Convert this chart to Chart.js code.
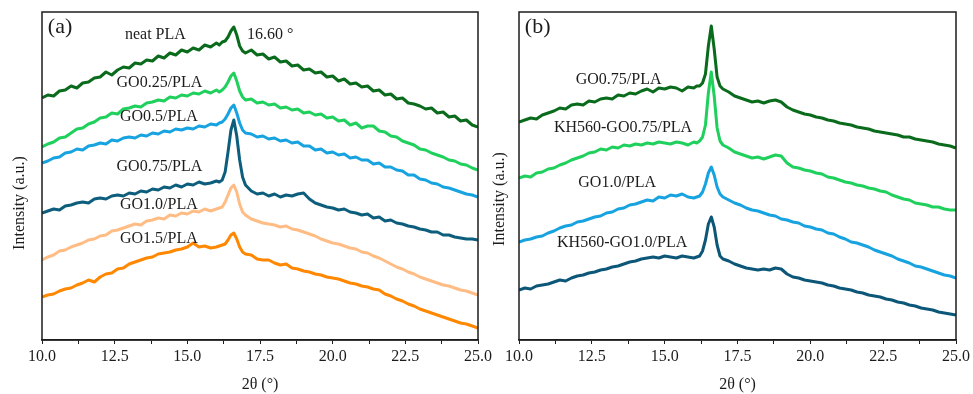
<!DOCTYPE html>
<html>
<head>
<meta charset="utf-8">
<script src="https://cdn.jsdelivr.net/npm/chart.js@4.4.1/dist/chart.umd.min.js"></script>
<style>
  html, body { margin: 0; padding: 0; background: #fff; }
  #wrap { position: relative; width: 973px; height: 394px; overflow: hidden; }
  #chartA { position: absolute; left: 0; top: 0; }
  #chartB { position: absolute; left: 490px; top: 0; }
</style>
</head>
<body>
<div id="wrap">
  <canvas id="chartA" width="500" height="394"></canvas>
  <canvas id="chartB" width="483" height="394"></canvas>
</div>
<script>
// 2θ positions (degrees), shared by every pattern
const theta = [10.0,10.2,10.4,10.6,10.8,11.0,11.2,11.4,11.6,11.8,12.0,12.2,12.4,12.6,12.8,13.0,13.2,13.4,13.6,13.8,
  14.0,14.2,14.4,14.6,14.8,15.0,15.2,15.4,15.6,15.8,16.0,16.1,16.2,16.3,16.4,16.5,16.6,16.7,16.8,16.9,17.0,
  17.2,17.4,17.6,17.8,18.0,18.2,18.4,18.6,18.8,19.0,19.2,19.4,19.6,19.8,20.0,20.2,20.4,20.6,20.8,
  21.0,21.2,21.4,21.6,21.8,22.0,22.2,22.4,22.6,22.8,23.0,23.2,23.4,23.6,23.8,24.0,24.2,24.4,24.6,24.8,25.0];

const majorTicks = [10.0, 12.5, 15.0, 17.5, 20.0, 22.5, 25.0];

// panel (a): intensity (a.u., curves stacked with offsets)
const neatPLA = [242,245,244,249,250,254,252,257,258,262, 263,268,265,270,273,272,277,276,280,279,
  284,282,287,285,290,288,292,290,295,293, 297,295,298,299,303,309,313,305,294,289,
  287,290,285,286,281,283,278,279,274,275, 270,271,267,268,263,264,259,261,256,257,
  253,254,249,250,245,246,241,242,237,236, 234,231,232,227,228,223,224,219,220,215, 213];
const go025 = [193,196,198,202,203,207,211,212,216,218, 222,223,227,226,231,232,234,233,237,238,
  240,239,243,242,245,244,247,246,249,247, 250,248,250,253,258,264,267,259,249,243,
  240,241,237,238,235,236,232,233,230,231, 227,228,225,226,222,223,219,220,215,217,
  212,214,214,209,208,204,203,199,197,195, 191,190,187,185,183,180,179,176,175,172, 170];
const go05 = [177,179,182,183,187,188,191,190,194,195, 197,196,200,199,202,203,202,205,204,207,
  206,209,208,211,210,212,211,214,213,216, 215,217,218,221,226,232,235,227,217,210,
  207,206,203,204,201,202,199,200,197,198, 194,194,190,191,187,188,185,186,182,183,
  180,180,176,177,173,173,170,169,165,165, 161,160,157,156,153,152,150,148,146,145, 143];
const go075 = [127,129,131,130,134,135,137,138,137,141, 142,141,144,145,144,147,146,149,148,151,
  150,153,152,155,153,156,155,158,156,157, 159,158,160,168,188,210,220,204,180,163,
  155,149,146,147,144,146,143,145,144,146, 147,141,137,135,133,132,130,131,128,127,
  125,126,122,123,119,120,117,116,114,113, 111,110,108,108,105,105,103,102,101,101, 100];
const go10 = [80,83,85,89,90,93,95,97,100,101, 104,105,109,110,112,114,116,115,119,120,
  122,121,125,124,127,126,129,128,131,129, 131,132,133,138,145,152,155,148,136,128,
  125,121,119,117,116,115,113,114,111,110, 108,106,104,101,99,97,96,94,92,91,
  88,87,84,82,79,76,73,71,68,66, 63,61,59,57,55,54,52,50,49,47, 45];
const go15 = [43,45,46,49,51,52,55,57,60,58, 63,66,67,71,72,76,78,80,82,83,
  86,87,88,90,91,93,97,93,94,92, 93,94,95,96,100,105,107,101,93,88,
  86,85,81,80,80,77,75,76,72,71, 69,68,66,65,63,62,61,59,57,56,
  54,53,51,50,46,44,41,39,36,34, 31,29,27,25,23,21,19,17,16,14, 12];

// panel (b)
const bGo075 = [218,220,222,221,225,227,229,232,231,235, 236,235,239,238,241,242,241,245,244,247,
  246,249,251,248,252,251,253,252,249,253, 252,254,254,257,266,294,314,291,263,254,
  251,248,244,242,240,238,239,237,239,240, 238,233,230,228,226,225,223,222,220,219,
  217,216,215,213,212,211,209,208,207,206, 205,203,203,201,200,199,198,196,195,194, 192];
const khGo075 = [162,164,163,167,168,171,172,175,177,180, 182,184,187,188,191,190,193,192,195,194,
  196,195,197,196,198,197,196,198,197,195, 198,197,199,203,215,247,268,244,212,199,
  195,192,188,186,184,182,183,181,183,185, 184,177,173,172,170,169,167,166,163,162,
  160,158,157,155,154,152,151,149,148,145, 143,141,140,137,136,135,133,133,131,130, 130];
const bGo10 = [98,100,101,103,104,107,109,112,114,115, 118,119,121,123,124,127,128,131,132,135,
  136,138,140,139,143,142,145,144,146,143, 142,143,144,148,156,167,173,165,153,146,
  143,140,137,135,132,130,129,127,125,124, 121,120,118,117,114,113,111,110,107,106,
  103,101,98,97,95,93,90,88,86,84, 81,79,77,74,73,71,69,67,65,64, 62];
const khGo10 = [50,52,51,54,55,56,58,60,59,62, 64,65,67,68,70,71,73,74,76,78,
  79,81,82,83,82,84,83,82,84,83, 82,83,84,89,100,116,123,113,95,84,
  81,79,76,74,72,71,70,71,70,72, 71,66,63,62,60,59,58,57,55,54,
  52,51,50,48,47,45,44,43,41,40, 38,37,35,34,32,31,30,28,27,26, 25];

const SERIF = "'Liberation Serif', 'Times New Roman', serif";
const INK = '#1c1c1c';

function pts(ys) {
  return theta.map((t, i) => ({ x: t, y: ys[i] }));
}

function line(label, ys, color) {
  return {
    label: label,
    data: pts(ys),
    borderColor: color,
    borderWidth: 3,
    borderJoinStyle: 'round',
    pointRadius: 0,
    tension: 0,
    fill: false
  };
}

// frame, y title and the curve labels
const decor = {
  id: 'decor',
  afterDraw(chart, args, opts) {
    const { ctx, chartArea: a, scales } = chart;
    ctx.save();
    ctx.strokeStyle = INK;
    ctx.lineWidth = 1.5;
    ctx.strokeRect(a.left, a.top, a.right - a.left, a.bottom - a.top);

    ctx.fillStyle = INK;
    ctx.textBaseline = 'middle';
    opts.labels.forEach(l => {
      ctx.font = (l.size || 16) + 'px ' + SERIF;
      ctx.textAlign = l.align || 'center';
      ctx.fillText(l.text, scales.x.getPixelForValue(l.x), scales.y.getPixelForValue(l.y));
    });

    ctx.translate(a.left - opts.yTitleDx, opts.yTitleY);
    ctx.rotate(-Math.PI / 2);
    ctx.textAlign = 'center';
    ctx.font = '16px ' + SERIF;
    ctx.fillText('Intensity (a.u.)', 0, 0);
    ctx.restore();
  }
};

function makeOptions(pad, labels, yTitleDx, yTitleY) {
  return {
    responsive: false,
    animation: false,
    layout: { padding: pad },
    scales: {
      x: {
        type: 'linear',
        min: 10,
        max: 25,
        afterFit: s => { s.height = 54; },
        border: { display: true, color: INK, width: 1.5 },
        grid: { drawOnChartArea: false, drawTicks: true, tickLength: 4, color: INK },
        ticks: {
          stepSize: 1.25,
          autoSkip: false,
          maxRotation: 0,
          padding: 3,
          color: INK,
          font: { family: SERIF, size: 16 },
          callback: v => majorTicks.some(m => Math.abs(m - v) < 1e-6) ? v.toFixed(1) : ''
        },
        title: {
          display: true,
          text: '2θ (°)',
          color: INK,
          font: { family: SERIF, size: 16 },
          padding: { top: 0, bottom: 0 }
        }
      },
      y: { display: false, min: 0, max: 328 }
    },
    plugins: {
      legend: { display: false },
      tooltip: { enabled: false },
      decor: { labels: labels, yTitleDx: yTitleDx, yTitleY: yTitleY }
    }
  };
}

new Chart(document.getElementById('chartA'), {
  type: 'line',
  data: {
    datasets: [
      line('neat PLA', neatPLA, '#0a6b1c'),
      line('GO0.25/PLA', go025, '#1fd05c'),
      line('GO0.5/PLA', go05, '#17a2e0'),
      line('GO0.75/PLA', go075, '#0d5e7c'),
      line('GO1.0/PLA', go10, '#ffbd85'),
      line('GO1.5/PLA', go15, '#ff8800')
    ]
  },
  options: makeOptions({ left: 42, right: 22, top: 12, bottom: 0 }, [
    { text: '(a)', x: 10.2, y: 313, size: 22, align: 'left' },
    { text: 'neat PLA', x: 13.9, y: 305 },
    { text: '16.60 °', x: 17.05, y: 305, align: 'left' },
    { text: 'GO0.25/PLA', x: 14.04, y: 257 },
    { text: 'GO0.5/PLA', x: 14.02, y: 223 },
    { text: 'GO0.75/PLA', x: 14.04, y: 173 },
    { text: 'GO1.0/PLA', x: 14.02, y: 135 },
    { text: 'GO1.5/PLA', x: 14.02, y: 101 }
  ], 22, 203),
  plugins: [decor]
});

new Chart(document.getElementById('chartB'), {
  type: 'line',
  data: {
    datasets: [
      line('GO0.75/PLA', bGo075, '#0a6b1c'),
      line('KH560-GO0.75/PLA', khGo075, '#1fd05c'),
      line('GO1.0/PLA', bGo10, '#17a2e0'),
      line('KH560-GO1.0/PLA', khGo10, '#0c5678')
    ]
  },
  options: makeOptions({ left: 29, right: 16, top: 12, bottom: 0 }, [
    { text: '(b)', x: 10.2, y: 313, size: 22, align: 'left' },
    { text: 'GO0.75/PLA', x: 13.42, y: 260 },
    { text: 'KH560-GO0.75/PLA', x: 13.57, y: 212 },
    { text: 'GO1.0/PLA', x: 13.37, y: 157 },
    { text: 'KH560-GO1.0/PLA', x: 13.54, y: 97 }
  ], 19, 199),
  plugins: [decor]
});
</script>
</body>
</html>
